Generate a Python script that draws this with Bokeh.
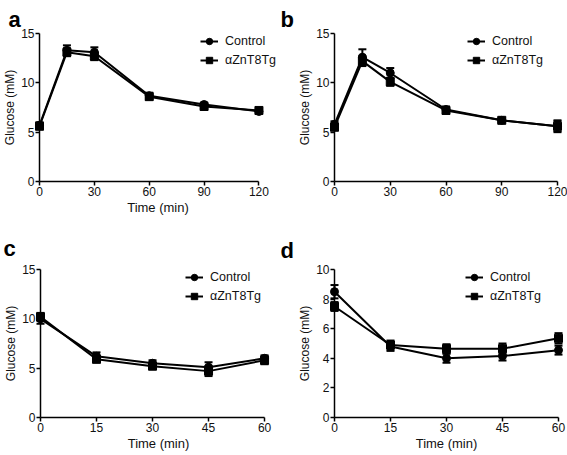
from bokeh.plotting import figure
from bokeh.layouts import column, row
from bokeh.models import Range1d, Legend, LegendItem, Title, FixedTicker
from bokeh.embed import file_html
from bokeh.resources import INLINE

# ---------------- data ----------------
time_ab = [0, 15, 30, 60, 90, 120]
time_cd = [0, 15, 30, 45, 60]

ctrl_a = [5.7, 13.3, 13.1, 8.7, 7.8, 7.1]
ctrl_a_err = [0.3, 0.5, 0.5, 0.3, 0.2, 0.2]
tg_a = [5.6, 13.1, 12.7, 8.6, 7.6, 7.2]
tg_a_err = [0.3, 0.4, 0.4, 0.3, 0.2, 0.2]

ctrl_b = [5.8, 12.6, 11.0, 7.3, 6.2, 5.6]
ctrl_b_err = [0.3, 0.8, 0.5, 0.3, 0.2, 0.6]
tg_b = [5.5, 12.2, 10.1, 7.2, 6.2, 5.6]
tg_b_err = [0.3, 0.5, 0.4, 0.3, 0.2, 0.5]

ctrl_c = [10.0, 6.2, 5.5, 5.1, 6.0]
ctrl_c_err = [0.5, 0.4, 0.3, 0.5, 0.3]
tg_c = [10.2, 5.9, 5.2, 4.7, 5.8]
tg_c_err = [0.4, 0.3, 0.3, 0.5, 0.4]

ctrl_d = [8.5, 4.8, 4.0, 4.15, 4.55]
ctrl_d_err = [0.45, 0.3, 0.3, 0.3, 0.3]
tg_d = [7.5, 4.9, 4.65, 4.65, 5.35]
tg_d_err = [0.3, 0.3, 0.3, 0.35, 0.35]

xticks_ab = [0, 30, 60, 90, 120]
xticks_cd = [0, 15, 30, 45, 60]
yticks_abc = [0, 5, 10, 15]
yticks_d = [0, 2, 4, 6, 8, 10]

series_names = ["Control", "\u03b1ZnT8Tg"]

FONT = "Liberation Sans"


def make_panel(letter, t, ctrl, ctrl_err, tg, tg_err, xticks, yticks,
               xlabel, w, h, bl, br, bt, bb, x_end, title_standoff,
               title_dx, leg_x, leg_dy):
    fh = h - bt - bb
    p = figure(width=w, height=h,
               min_border_left=bl, min_border_right=br,
               min_border_top=bt, min_border_bottom=bb,
               x_range=Range1d(xticks[0], x_end),
               y_range=Range1d(yticks[0], yticks[-1]),
               output_backend="svg", toolbar_location=None)
    p.outline_line_color = None
    p.grid.visible = False
    p.background_fill_color = "white"
    p.border_fill_color = "white"

    p.title = Title(text=letter, align="left", offset=-bl + title_dx,
                    text_font=FONT, text_font_size="22px",
                    text_font_style="bold", text_color="black",
                    standoff=title_standoff)

    for ax, ticks in ((p.xaxis, xticks), (p.yaxis, yticks)):
        ax.ticker = FixedTicker(ticks=ticks)
        ax.bounds = (ticks[0], ticks[-1])
        ax.axis_line_width = 1.5
        ax.axis_line_color = "black"
        ax.major_tick_line_width = 1.5
        ax.major_tick_line_color = "black"
        ax.major_tick_out = 4
        ax.major_tick_in = 0
        ax.minor_tick_line_color = None
        ax.major_label_text_font = FONT
        ax.major_label_text_font_size = "12px"
        ax.major_label_text_color = "#111111"
        ax.major_label_standoff = 1
        ax.axis_label_text_font = FONT
        ax.axis_label_text_font_style = "normal"
        ax.axis_label_text_color = "#111111"
        ax.axis_label_standoff = 1
    p.yaxis.axis_label = "Glucose (mM)"
    p.yaxis.axis_label_text_font_size = "12px"
    p.xaxis.axis_label_text_font_size = "13px"
    if xlabel:
        p.xaxis.axis_label = xlabel

    items = []
    for vals, errs, marker, name in ((ctrl, ctrl_err, "circle", series_names[0]),
                                     (tg, tg_err, "square", series_names[1])):
        lo = [v - e for v, e in zip(vals, errs)]
        hi = [v + e for v, e in zip(vals, errs)]
        lr = p.line(t, vals, line_color="black", line_width=2, level="overlay")
        p.segment(x0=t, y0=lo, x1=t, y1=hi, line_color="black",
                  line_width=2, level="overlay")
        p.scatter(t, hi, marker="dash", size=8, line_color="black",
                  line_width=2, level="overlay")
        p.scatter(t, lo, marker="dash", size=8, line_color="black",
                  line_width=2, level="overlay")
        mr = p.scatter(t, vals, marker=marker, size=8, fill_color="black",
                       line_color="black", level="overlay")
        items.append(LegendItem(label=name, renderers=[lr, mr]))

    leg = Legend(items=items, location=(leg_x, fh - 35 - leg_dy),
                 glyph_width=18, glyph_height=16, label_height=16,
                 label_standoff=7, spacing=3, padding=0, margin=0,
                 border_line_color=None, background_fill_alpha=0,
                 label_text_font=FONT, label_text_font_size="12.5px",
                 label_text_color="#111111")
    p.add_layout(leg)
    return p


pa = make_panel("a", time_ab, ctrl_a, ctrl_a_err, tg_a, tg_a_err,
                xticks_ab, yticks_abc, "Time (min)",
                w=280, h=222, bl=34, br=4, bt=33, bb=41, x_end=129.6,
                title_standoff=3, title_dx=3, leg_x=161, leg_dy=0)
pb = make_panel("b", time_ab, ctrl_b, ctrl_b_err, tg_b, tg_b_err,
                xticks_ab, yticks_abc, None,
                w=287, h=222, bl=54, br=10, bt=33, bb=41, x_end=120,
                title_standoff=3, title_dx=0, leg_x=133, leg_dy=0)
pc = make_panel("c", time_cd, ctrl_c, ctrl_c_err, tg_c, tg_c_err,
                xticks_cd, yticks_abc, "Time (min)",
                w=280, h=233, bl=40, br=4, bt=47, bb=37, x_end=63.2,
                title_standoff=17, title_dx=3, leg_x=145, leg_dy=1)
pd_ = make_panel("d", time_cd, ctrl_d, ctrl_d_err, tg_d, tg_d_err,
                 xticks_cd, yticks_d, "Time (min)",
                 w=287, h=233, bl=54, br=9, bt=45, bb=38, x_end=60,
                 title_standoff=14, title_dx=0, leg_x=131, leg_dy=2)

layout = column(row(pa, pb), row(pc, pd_))

with open("out.html", "w") as f:
    f.write(file_html(layout, INLINE))
